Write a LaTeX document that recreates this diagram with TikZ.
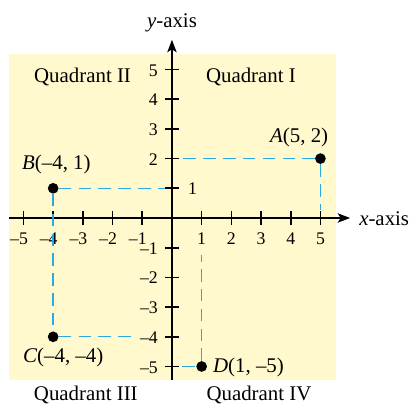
\documentclass[tikz,border=0pt]{standalone}
\usepackage{fontspec}
\setmainfont{Liberation Serif}
\usetikzlibrary{arrows.meta,positioning}
\definecolor{paleyellow}{RGB}{255,249,205}
\definecolor{guideblue}{RGB}{41,171,226}

\begin{document}
\begin{tikzpicture}[
        axisline/.style={line width=1.6pt, -{Stealth[length=12pt, width=9pt, inset=3pt]}},
        tickmark/.style={line width=1.6pt},
        guide/.style={draw=guideblue, line width=1.3pt, dash pattern=on 12pt off 7pt},
        dot/.style={circle, fill=black, minimum size=0.36cm, inner sep=0pt},
        lab/.style={inner sep=0pt, anchor=base west, font=\fontsize{20}{24}\selectfont},
        num/.style={inner sep=0pt, font=\fontsize{17}{20}\selectfont}
    ]
        \useasboundingbox (-5.79,-6.36) rectangle (8.15,7.34);
        \fill[paleyellow] (-5.5,-5.47) rectangle (5.52,5.52);

        % axes
        \coordinate (xl) at (-5.5,0);
        \coordinate (xr) at (6,0);
        \coordinate (yb) at (0,-5.47);
        \coordinate (yt) at (0,6);
        \draw[axisline] (xl) -- (xr);
        \draw[axisline] (yb) -- (yt);

        \foreach \i in {-5,...,-1,1,2,...,5} {
            \draw[tickmark] (\i,-0.23) -- (\i,0.23);
            \draw[tickmark] (-0.23,\i) -- (0.23,\i);
        }
        \foreach \i in {-5,...,-1}
            \node[num, anchor=base] at (\i,-0.88) {\llap{–}\the\numexpr-\i\relax};
        \foreach \i in {1,...,5}
            \node[num, anchor=base] at (\i,-0.88) {\i};
        \foreach \i in {-5,...,-1,2,3,4,5}
            \node[num, anchor=base east] at (-0.47,\i-0.22) {\ifnum\i<0 –\the\numexpr-\i\relax\else\i\fi};
        \node[num, anchor=base west] at (0.54,0.78) {1};

        \node[lab] (xlab) at (6.30,-0.24) {\textit{x}-axis};
        \node[lab, anchor=base] (ylab) at (0,6.40) {\textit{y}-axis};

        % points
        \node[dot] (A) at (5,2) {};
        \node[dot] (B) at (-4,1) {};
        \node[dot] (C) at (-4,-4) {};
        \node[dot] (D) at (1,-5) {};

        \node[lab] (Alab) at (3.30,2.53) {\textit{A}(5, 2)};
        \node[lab] (Blab) at (-5.05,1.62) {\textit{B}(–4, 1)};
        \node[lab] (Clab) at (-5.02,-4.85) {\textit{C}(–4, –4)};
        \node[lab] (Dlab) at (1.38,-5.19) {\textit{D}(1, –5)};

        \coordinate (Ay) at (0.35,2);
        \coordinate (Ax) at (5,0.27);
        \coordinate (By) at (-0.25,1);
        \coordinate (Cy) at (-1.25,-4);
        \coordinate (Dx) at (1,-1.25);
        \coordinate (Dy) at (0.35,-5);
        \draw[guide] (A) -- (Ay);
        \draw[guide] (A) -- (Ax);
        \draw[guide] (B) -- (By);
        \draw[guide] (B) -- (C);
        \draw[guide] (C) -- (Cy);
        \draw[guide] (D) -- (Dx);
        \draw[guide] (Dy) -- (D);

        % quadrants
        \node[lab, anchor=base] (q1) at (2.66,4.55) {Quadrant I};
        \node[lab, anchor=base] (q2) at (-3.01,4.55) {Quadrant II};
        \node[lab, anchor=base] (q3) at (-2.9,-6.13) {Quadrant III};
        \node[lab, anchor=base] (q4) at (2.93,-6.13) {Quadrant IV};
\end{tikzpicture}
\end{document}
